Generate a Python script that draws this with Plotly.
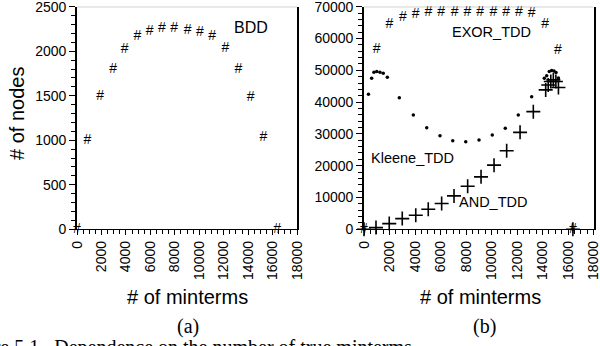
import plotly.graph_objects as go

W, H = 600, 346

# ---- data ----
bdd_x = [0, 850, 1900, 2950, 3900, 4950, 5950, 6950, 7950, 9050, 10050, 11050, 12150, 13200, 14200, 15250, 16384]
bdd_y = [0, 1000, 1490, 1800, 2020, 2170, 2220, 2250, 2250, 2230, 2210, 2160, 2030, 1800, 1480, 1030, 0]

exor_x = [0, 1000, 2000, 3050, 4050, 5050, 6050, 7100, 8100, 9100, 10150, 11150, 12150, 13150, 14200, 15200, 16384]
exor_y = [0, 56400, 64300, 66750, 67500, 68200, 68200, 68200, 68200, 68200, 68200, 68200, 68200, 67800, 64300, 56200, 0]

kleene_x = [0, 350, 600, 780, 1000, 1250, 1510, 1830, 2770, 3870, 4920, 5960, 6960, 7980, 9020, 10060,
            11080, 12100, 13150, 14140, 14330, 14530, 14720, 14900, 15060, 15250, 16384]
kleene_y = [0, 42500, 47500, 49400, 49600, 49400, 49100, 47800, 41400, 35950, 31950, 29400, 27850, 27550,
            28050, 29650, 31750, 35950, 41700, 47500, 48300, 49600, 49900, 49800, 49300, 47600, 0]

and_x = [0, 940, 1980, 3000, 4060, 5040, 6090, 7060, 8130, 9180, 10200, 11190, 12240, 13280, 14250,
         14450, 14650, 14850, 15050, 15250, 16384]
and_y = [0, 540, 1800, 3370, 4410, 6300, 8100, 10500, 13560, 16490, 20180, 24690, 30490, 36990, 43830,
         45400, 46500, 47000, 46500, 44600, 0]

x_range = [0, 18000]
x_step = 2000
y1_range = [0, 2500]
y1_step = 500
y2_range = [0, 70000]
y2_step = 10000

SANS = "Liberation Sans, Arial, sans-serif"
SERIF = "Liberation Serif, Times New Roman, serif"


def px_x(p):
    return p / W


def px_y(p):
    return 1 - p / H


fig = go.Figure()

fig.add_trace(go.Scatter(x=bdd_x, y=bdd_y, mode="text", text=["#"] * len(bdd_x),
                         textfont=dict(family=SANS, size=14, color="black"),
                         xaxis="x", yaxis="y", cliponaxis=False, showlegend=False,
                         hoverinfo="skip"))

fig.add_trace(go.Scatter(x=exor_x, y=exor_y, mode="text", text=["#"] * len(exor_x),
                         textfont=dict(family=SANS, size=14, color="black"),
                         xaxis="x2", yaxis="y2", cliponaxis=False, showlegend=False,
                         hoverinfo="skip"))
fig.add_trace(go.Scatter(x=kleene_x, y=kleene_y, mode="markers",
                         marker=dict(symbol="circle", size=3.5, color="black"),
                         xaxis="x2", yaxis="y2", cliponaxis=False, showlegend=False,
                         hoverinfo="skip"))
fig.add_trace(go.Scatter(x=and_x, y=and_y, mode="markers",
                         marker=dict(symbol="cross-thin", size=10, color="black",
                                     line=dict(color="black", width=1.6)),
                         xaxis="x2", yaxis="y2", cliponaxis=False, showlegend=False,
                         hoverinfo="skip"))

Y_TOP, Y_BOT = 6.7, 229.3
L1, R1 = 77, 297
L2, R2 = 364, 593.5
ydom = [px_y(Y_BOT), px_y(Y_TOP)]

xcommon = dict(range=x_range, tickmode="linear", tick0=0, dtick=x_step, tickformat="d",
               tickangle=-90, ticks="outside", ticklen=5, tickwidth=1.2, tickcolor="black",
               showline=True, linecolor="black", linewidth=1.2, showgrid=False, zeroline=False,
               automargin=False, ticklabeloverflow="allow",
               tickfont=dict(family=SANS, size=14, color="black"),
               minor=dict(tick0=0, dtick=500, ticks="outside", ticklen=4, tickwidth=1,
                          tickcolor="black", showgrid=False))
ycommon = dict(tickmode="linear", tick0=0, tickformat="d",
               ticks="outside", ticklen=6, tickwidth=1.2, tickcolor="black",
               showline=True, linecolor="black", linewidth=1.6, mirror=True,
               showgrid=False, zeroline=False,
               automargin=False, ticklabeloverflow="allow",
               tickfont=dict(family=SANS, size=14, color="black"))

fig.update_layout(
    width=W, height=H,
    margin=dict(l=0, r=0, t=0, b=0, autoexpand=False),
    paper_bgcolor="white", plot_bgcolor="white",
    hovermode=False,
    xaxis=dict(domain=[px_x(L1), px_x(R1)], anchor="y", **xcommon),
    yaxis=dict(domain=ydom, anchor="x", range=y1_range, dtick=y1_step,
               minor=dict(tick0=0, dtick=100, ticks="outside", ticklen=4, tickwidth=1,
                          tickcolor="black", showgrid=False),
               **ycommon),
    xaxis2=dict(domain=[px_x(L2), px_x(R2)], anchor="y2", **xcommon),
    yaxis2=dict(domain=ydom, anchor="x2", range=y2_range, dtick=y2_step,
                minor=dict(tick0=0, dtick=2000, ticks="outside", ticklen=4, tickwidth=1,
                           tickcolor="black", showgrid=False),
                **ycommon),
)

# faint top frame line of each panel
fig.add_shape(type="line", xref="x", yref="y", x0=x_range[0], x1=x_range[1],
              y0=y1_range[1], y1=y1_range[1], line=dict(color="#8c8c8c", width=1))
fig.add_shape(type="line", xref="x2", yref="y2", x0=x_range[0], x1=x_range[1],
              y0=y2_range[1], y1=y2_range[1], line=dict(color="#8c8c8c", width=1))

ann = []
ann.append(dict(text="BDD", x=250.5, y=27.5, size=16))
ann.append(dict(text="EXOR_TDD", x=491.5, y=32, size=14.5))
ann.append(dict(text="Kleene_TDD", x=412, y=157.5, size=14.5))
ann.append(dict(text="AND_TDD", x=493, y=202, size=14.5))
for a in ann:
    fig.add_annotation(text=a["text"], xref="paper", yref="paper", x=px_x(a["x"]), y=px_y(a["y"]),
                       xanchor="center", yanchor="middle", showarrow=False,
                       font=dict(family=SANS, size=a["size"], color="black"))

fig.add_annotation(text="# of nodes", xref="paper", yref="paper", x=px_x(17), y=px_y(114),
                   textangle=-90, showarrow=False, xanchor="center", yanchor="middle",
                   font=dict(family=SANS, size=20, color="black"))
for cx in (187.5, 480):
    fig.add_annotation(text="# of minterms", xref="paper", yref="paper", x=px_x(cx), y=px_y(297),
                       showarrow=False, xanchor="center", yanchor="middle",
                       font=dict(family=SANS, size=20, color="black"))
for cx, lab in ((188, "(a)"), (484, "(b)")):
    fig.add_annotation(text=lab, xref="paper", yref="paper", x=px_x(cx), y=px_y(326),
                       showarrow=False, xanchor="center", yanchor="middle",
                       font=dict(family=SERIF, size=20, color="black"))

fig.add_annotation(text="Figure 5.1.  Dependence on the number of true minterms",
                   xref="paper", yref="paper", x=px_x(-45), y=px_y(334),
                   showarrow=False, xanchor="left", yanchor="top",
                   font=dict(family=SERIF, size=20, color="black"))

fig.write_html("out.html", config={"displayModeBar": False},
               post_script="document.body.style.margin='0';")
